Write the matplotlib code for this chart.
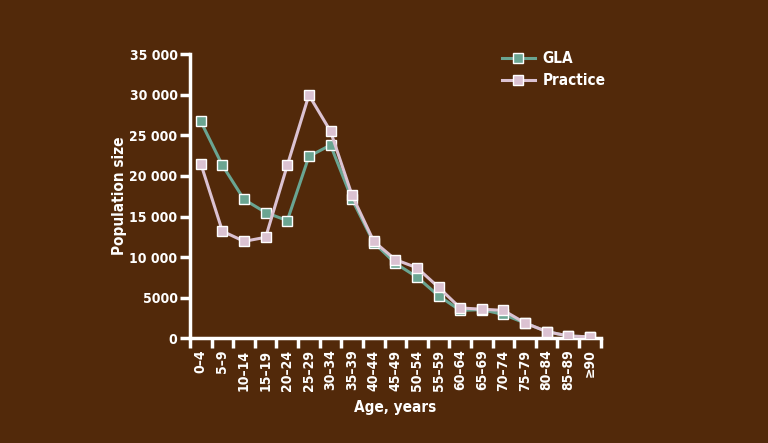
import numpy as np
import matplotlib.pyplot as plt

# Age groups and population sizes
ages = ["0–4", "5–9", "10–14", "15–19", "20–24", "25–29", "30–34", "35–39",
        "40–44", "45–49", "50–54", "55–59", "60–64", "65–69", "70–74",
        "75–79", "80–84", "85–89", "≥90"]
gla = [26700, 21300, 17100, 15500, 14500, 22400, 23800, 17100, 11800, 9250,
       7550, 5250, 3450, 3550, 2950, 1900, 850, 300, 200]
practice = [21500, 13200, 11950, 12450, 21300, 29950, 25500, 17600, 11950,
            9700, 8700, 6300, 3750, 3600, 3450, 1900, 850, 300, 200]
yticks = [0, 5000, 10000, 15000, 20000, 25000, 30000, 35000]
yticklabels = ["0", "5000", "10 000", "15 000", "20 000", "25 000", "30 000", "35 000"]

bg = "#52290a"
green = "#6aa592"
pink = "#dbc2d2"

plt.rcParams['font.family'] = ['DejaVu Sans']
plt.rcParams['font.stretch'] = 'condensed'
plt.rcParams['font.weight'] = 'bold'

fig = plt.figure(figsize=(7.68, 4.43), dpi=100, facecolor=bg)
ax = fig.add_axes([0.2474, 0.236, 0.5348, 0.642])
ax.set_facecolor(bg)

x = np.arange(len(ages))
ax.plot(x, gla, color=green, lw=2.2, marker='s', ms=7, mfc=green, mec='white',
        mew=1, label='GLA', zorder=3)
ax.plot(x, practice, color=pink, lw=2.2, marker='s', ms=7, mfc=pink, mec='white',
        mew=1, label='Practice', zorder=4)

ax.set_xlim(-0.5, len(ages) - 0.5)
ax.set_ylim(0, 35000)

for s in ['top', 'right']:
    ax.spines[s].set_visible(False)
for s in ['left', 'bottom']:
    ax.spines[s].set_color('white')
    ax.spines[s].set_linewidth(2.5)

ax.set_yticks(yticks)
ax.set_yticklabels(yticklabels)
ax.set_xticks(np.arange(len(ages) + 1) - 0.5)
ax.set_xticklabels([])
ax.set_xticks(x, minor=True)
ax.set_xticklabels(ages, minor=True, rotation=90)
ax.tick_params(axis='x', which='minor', length=0, pad=8)
ax.tick_params(axis='both', which='major', color='white', width=2.5, length=7)
ax.tick_params(axis='both', which='both', labelcolor='white', labelsize=10)
ax.tick_params(axis='y', pad=2)

ax.set_ylabel("Population size", color='white', fontsize=11, fontweight='bold', labelpad=2)
ax.set_xlabel("Age, years", color='white', fontsize=11, fontweight='bold', labelpad=7)

leg = ax.legend(loc='upper left', bbox_to_anchor=(0.725, 1.058), frameon=False,
                fontsize=11, handlelength=2.2, handletextpad=0.5,
                labelspacing=0.45, labelcolor='white')

fig.savefig("out.png", dpi=100, facecolor=bg)
